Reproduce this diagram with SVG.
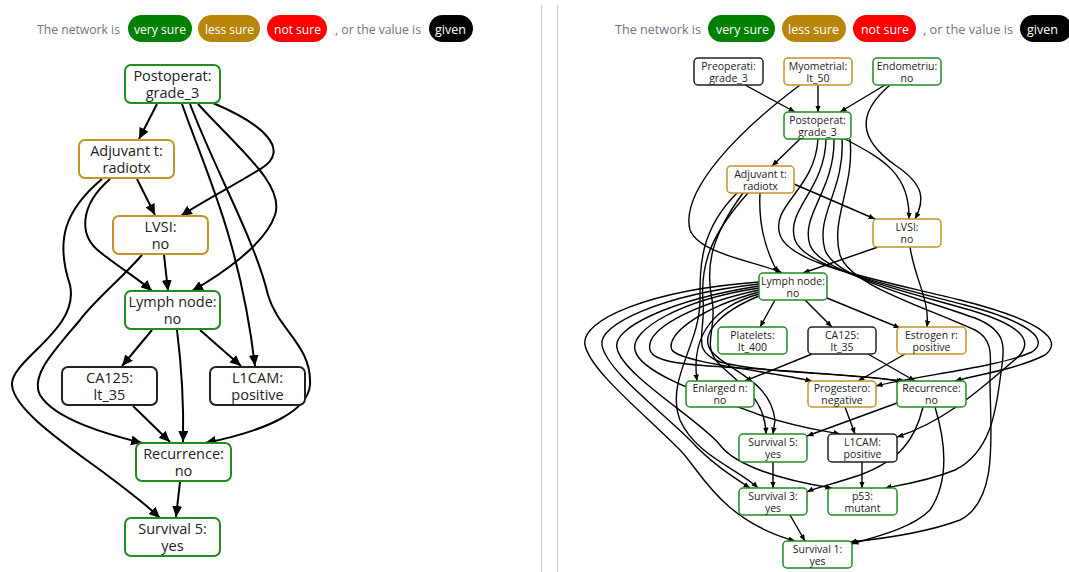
<svg xmlns="http://www.w3.org/2000/svg" width="1069" height="572" viewBox="0 0 1069 572">
<style>
.lg{font-family:"Open Sans","Noto Sans",sans-serif;font-size:13px;fill:#6c757d}
.pl{font-family:"Open Sans","Noto Sans",sans-serif;font-size:13px;fill:#fff}
.nl rect{fill:#fff;stroke-width:2}
.nr rect{fill:#fff;stroke-width:1.5}
.g rect{stroke:#228b22}
.o rect{stroke:#c39426}
.k rect{stroke:#222}
.nl text{font-family:"Open Sans","Noto Sans",sans-serif;font-size:14.5px;fill:#222;text-anchor:middle}
.nr text{font-family:"Open Sans","Noto Sans",sans-serif;font-size:10.5px;fill:#222;text-anchor:middle}
.el path{fill:none;stroke:#000;stroke-width:2;marker-end:url(#al)}
.er path{fill:none;stroke:#000;stroke-width:1.4;marker-end:url(#ar)}
.div{stroke:#ccc;stroke-width:1.2}
</style>
<defs>
<marker id="al" markerUnits="userSpaceOnUse" markerWidth="12" markerHeight="10" refX="11" refY="5" orient="auto"><path d="M0,0 L11,5 L0,10 z" fill="#000"/></marker>
<marker id="ar" markerUnits="userSpaceOnUse" markerWidth="7" markerHeight="6" refX="6.5" refY="2.75" orient="auto"><path d="M0,0 L6.5,2.75 L0,5.5 z" fill="#000"/></marker>
</defs>
<rect width="1069" height="572" fill="#fff"/>
<line class="div" x1="541.5" y1="5" x2="541.5" y2="572"/>
<line class="div" x1="557.5" y1="5" x2="557.5" y2="572"/>

<g id="legend-left">
<text class="lg" x="37" y="34" textLength="83" lengthAdjust="spacingAndGlyphs">The network is</text>
<rect x="128" y="15" width="64" height="27" rx="13.5" fill="#008000"/><text class="pl" x="134" y="33.5" textLength="52" lengthAdjust="spacingAndGlyphs">very sure</text>
<rect x="198" y="15" width="62" height="27" rx="13.5" fill="#b8860b"/><text class="pl" x="205" y="33.5" textLength="49" lengthAdjust="spacingAndGlyphs">less sure</text>
<rect x="267" y="15" width="60" height="27" rx="13.5" fill="#ff0000"/><text class="pl" x="274" y="33.5" textLength="47" lengthAdjust="spacingAndGlyphs">not sure</text>
<text class="lg" x="335" y="34" textLength="86" lengthAdjust="spacingAndGlyphs">, or the value is</text>
<rect x="429" y="15" width="44" height="27" rx="13.5" fill="#000"/><text class="pl" x="435" y="33.5" textLength="31" lengthAdjust="spacingAndGlyphs">given</text>
</g>
<g id="legend-right">
<text class="lg" x="615" y="34" textLength="86" lengthAdjust="spacingAndGlyphs">The network is</text>
<rect x="708" y="15" width="67" height="27" rx="13.5" fill="#008000"/><text class="pl" x="716" y="33.5" textLength="53" lengthAdjust="spacingAndGlyphs">very sure</text>
<rect x="782" y="15" width="64" height="27" rx="13.5" fill="#b8860b"/><text class="pl" x="788" y="33.5" textLength="51" lengthAdjust="spacingAndGlyphs">less sure</text>
<rect x="853" y="15" width="63" height="27" rx="13.5" fill="#ff0000"/><text class="pl" x="861" y="33.5" textLength="48" lengthAdjust="spacingAndGlyphs">not sure</text>
<text class="lg" x="923" y="34" textLength="90" lengthAdjust="spacingAndGlyphs">, or the value is</text>
<rect x="1020" y="15" width="52" height="27" rx="13.5" fill="#000"/><text class="pl" x="1027" y="33.5" textLength="31" lengthAdjust="spacingAndGlyphs">given</text>
</g>

<g id="edges-left" class="el">
<path d="M157,104 L139,139"/>
<path d="M137,179 L155,215"/>
<path d="M213,103 C265,125 290,150 262,168 C235,185 200,203 181,216"/>
<path d="M198,104 C240,150 285,185 275,215 C265,245 220,275 192,291"/>
<path d="M182,104 C205,170 240,240 255,366"/>
<path d="M190,104 C215,170 255,240 268,295 C278,330 312,345 310,385 C308,410 270,430 205,443"/>
<path d="M164,255 L168,291"/>
<path d="M110,179 C80,205 78,235 100,252 C120,268 140,280 152,291"/>
<path d="M102,179 C65,210 55,240 70,285 C80,330 10,360 12,385 C15,420 110,470 160,518"/>
<path d="M142,255 C120,280 95,300 80,320 C55,350 30,375 40,395 C55,420 110,435 142,443"/>
<path d="M152,330 L122,366"/>
<path d="M200,330 L241,366"/>
<path d="M177,330 C182,370 184,400 183,442"/>
<path d="M133,406 L170,442"/>
<path d="M180,482 L176,517"/>
</g>

<g id="L-post" class="nl g"><rect x="125" y="65" width="95" height="38" rx="6"/><text x="172.5" y="81">Postoperat:</text><text x="172.5" y="98">grade_3</text></g>
<g id="L-adj" class="nl o"><rect x="79" y="140" width="95" height="38" rx="6"/><text x="126.5" y="156">Adjuvant t:</text><text x="126.5" y="173">radiotx</text></g>
<g id="L-lvsi" class="nl o"><rect x="113" y="216" width="95" height="38" rx="6"/><text x="160.5" y="232">LVSI:</text><text x="160.5" y="249">no</text></g>
<g id="L-lymph" class="nl g"><rect x="125" y="291" width="95" height="38" rx="6"/><text x="172.5" y="307">Lymph node:</text><text x="172.5" y="324">no</text></g>
<g id="L-ca125" class="nl k"><rect x="62" y="367" width="95" height="38" rx="6"/><text x="109.5" y="383">CA125:</text><text x="109.5" y="400">lt_35</text></g>
<g id="L-l1cam" class="nl k"><rect x="210" y="367" width="95" height="38" rx="6"/><text x="257.5" y="383">L1CAM:</text><text x="257.5" y="400">positive</text></g>
<g id="L-rec" class="nl g"><rect x="136" y="443" width="95" height="38" rx="6"/><text x="183.5" y="459">Recurrence:</text><text x="183.5" y="476">no</text></g>
<g id="L-s5" class="nl g"><rect x="125" y="518" width="95" height="38" rx="6"/><text x="172.5" y="534">Survival 5:</text><text x="172.5" y="551">yes</text></g>

<g id="edges-right" class="er">
<path d="M745,85 L795,112"/>
<path d="M818,85 L818,112"/>
<path d="M885,85 L840,112"/>
<path d="M800,85 C740,130 680,190 690,230 C700,255 760,262 782,273"/>
<path d="M890,85 C855,115 860,140 895,165 C925,185 925,200 915,219"/>
<path d="M800,139 L772,166"/>
<path d="M845,139 C885,160 910,175 909,219"/>
<path d="M794,184 L875,219"/>
<path d="M878,247 L803,273"/>
<path d="M760,193 C758,230 768,255 778,273"/>
<path d="M910,247 C915,280 930,300 927,327"/>
<path d="M818,139 C815,190 770,205 780,235 C790,265 880,280 960,300 C1040,320 1065,340 1045,355 C1015,370 975,375 955,381"/>
<path d="M826,139 C825,190 785,210 795,240 C805,268 890,285 965,305 C1030,322 1050,340 1032,352 C995,368 920,375 876,386"/>
<path d="M834,139 C835,190 800,215 810,245 C820,272 900,290 970,310 C1020,325 1035,340 1018,357 C990,380 950,420 897,437"/>
<path d="M842,139 C845,190 815,215 825,250 C835,278 910,295 975,318 C1005,330 1005,345 1002,365 C997,400 995,450 955,470 C925,482 900,485 885,488"/>
<path d="M850,139 C855,185 830,220 840,255 C850,285 920,305 975,330 C995,340 990,360 990,380 C990,430 1000,500 960,520 C920,535 870,540 850,542"/>
<path d="M827,298 L900,328"/>
<path d="M812,354 L745,381"/>
<path d="M868,354 L915,381"/>
<path d="M905,354 L858,381"/>
<path d="M845,407 L855,434"/>
<path d="M897,403 L807,436"/>
<path d="M862,462 L862,488"/>
<path d="M773,462 L773,488"/>
<path d="M790,515 L805,541"/>
<path d="M923,407 C915,440 900,460 860,475 C830,485 815,488 807,492"/>
<path d="M935,407 C945,440 950,480 930,510 C910,530 870,538 852,544"/>
<path d="M775,300 L760,327"/>
<path d="M805,300 L832,327"/>
<path d="M759,282 C650,290 580,320 585,345 C590,370 640,410 680,450 C700,470 720,520 795,541"/>
<path d="M759,284 C660,295 598,325 602,345 C606,370 660,410 690,440 C710,462 730,475 750,488"/>
<path d="M759,286 C670,300 612,328 617,348 C622,375 700,420 720,445 C735,465 780,480 832,488"/>
<path d="M759,288 C680,300 630,330 635,350 C640,375 720,400 760,415 C800,428 820,430 840,434"/>
<path d="M759,290 C690,305 645,330 650,350 C655,368 720,365 800,372 C850,376 880,378 905,381"/>
<path d="M759,292 C700,308 665,335 672,350 C680,362 760,370 812,381"/>
<path d="M759,294 C720,305 690,330 697,381"/>
<path d="M759,296 C720,312 698,335 712,352 C730,372 770,380 775,420 L773,434"/>
<path d="M748,193 C715,230 700,260 703,300 C706,335 690,350 720,362 C770,375 860,372 903,382"/>
<path d="M743,193 C712,235 705,265 712,300 C718,330 700,345 720,365 C745,388 765,400 766,434"/>
<path d="M737,193 C700,230 700,265 700,300 C700,345 665,380 680,420 C695,455 740,470 758,488"/>
</g>

<g id="R-preop" class="nr k"><rect x="694" y="58" width="69" height="27" rx="4"/><text x="728.5" y="69.5">Preoperati:</text><text x="728.5" y="81.5">grade_3</text></g>
<g id="R-myo" class="nr o"><rect x="784" y="58" width="68" height="27" rx="4"/><text x="818" y="69.5">Myometrial:</text><text x="818" y="81.5">lt_50</text></g>
<g id="R-endo" class="nr g"><rect x="873" y="58" width="68" height="27" rx="4"/><text x="907" y="69.5">Endometriu:</text><text x="907" y="81.5">no</text></g>
<g id="R-post" class="nr g"><rect x="784" y="112" width="67" height="27" rx="4"/><text x="817.5" y="123.5">Postoperat:</text><text x="817.5" y="135.5">grade_3</text></g>
<g id="R-adj" class="nr o"><rect x="727" y="166" width="67" height="27" rx="4"/><text x="760.5" y="177.5">Adjuvant t:</text><text x="760.5" y="189.5">radiotx</text></g>
<g id="R-lvsi" class="nr o"><rect x="873" y="219" width="68" height="28" rx="4"/><text x="907" y="230.5">LVSI:</text><text x="907" y="243">no</text></g>
<g id="R-lymph" class="nr g"><rect x="759" y="273" width="68" height="27" rx="4"/><text x="793" y="284.5">Lymph node:</text><text x="793" y="296.5">no</text></g>
<g id="R-plat" class="nr g"><rect x="718" y="327" width="69" height="27" rx="4"/><text x="752.5" y="338.5">Platelets:</text><text x="752.5" y="350.5">lt_400</text></g>
<g id="R-ca125" class="nr k"><rect x="808" y="327" width="68" height="27" rx="4"/><text x="842" y="338.5">CA125:</text><text x="842" y="350.5">lt_35</text></g>
<g id="R-estr" class="nr o"><rect x="897" y="327" width="69" height="27" rx="4"/><text x="931.5" y="338.5">Estrogen r:</text><text x="931.5" y="350.5">positive</text></g>
<g id="R-enl" class="nr g"><rect x="686" y="381" width="68" height="26" rx="4"/><text x="720" y="392">Enlarged n:</text><text x="720" y="404">no</text></g>
<g id="R-prog" class="nr o"><rect x="808" y="381" width="68" height="26" rx="4"/><text x="842" y="392">Progestero:</text><text x="842" y="404">negative</text></g>
<g id="R-rec" class="nr g"><rect x="897" y="381" width="69" height="26" rx="4"/><text x="931.5" y="392">Recurrence:</text><text x="931.5" y="404">no</text></g>
<g id="R-s5" class="nr g"><rect x="739" y="434" width="68" height="28" rx="4"/><text x="773" y="445.5">Survival 5:</text><text x="773" y="458">yes</text></g>
<g id="R-l1cam" class="nr k"><rect x="828" y="434" width="69" height="28" rx="4"/><text x="862.5" y="445.5">L1CAM:</text><text x="862.5" y="458">positive</text></g>
<g id="R-s3" class="nr g"><rect x="739" y="488" width="68" height="27" rx="4"/><text x="773" y="499.5">Survival 3:</text><text x="773" y="511.5">yes</text></g>
<g id="R-p53" class="nr g"><rect x="828" y="488" width="69" height="27" rx="4"/><text x="862.5" y="499.5">p53:</text><text x="862.5" y="511.5">mutant</text></g>
<g id="R-s1" class="nr g"><rect x="783" y="541" width="69" height="27" rx="4"/><text x="817.5" y="552.5">Survival 1:</text><text x="817.5" y="564.5">yes</text></g>
</svg>
